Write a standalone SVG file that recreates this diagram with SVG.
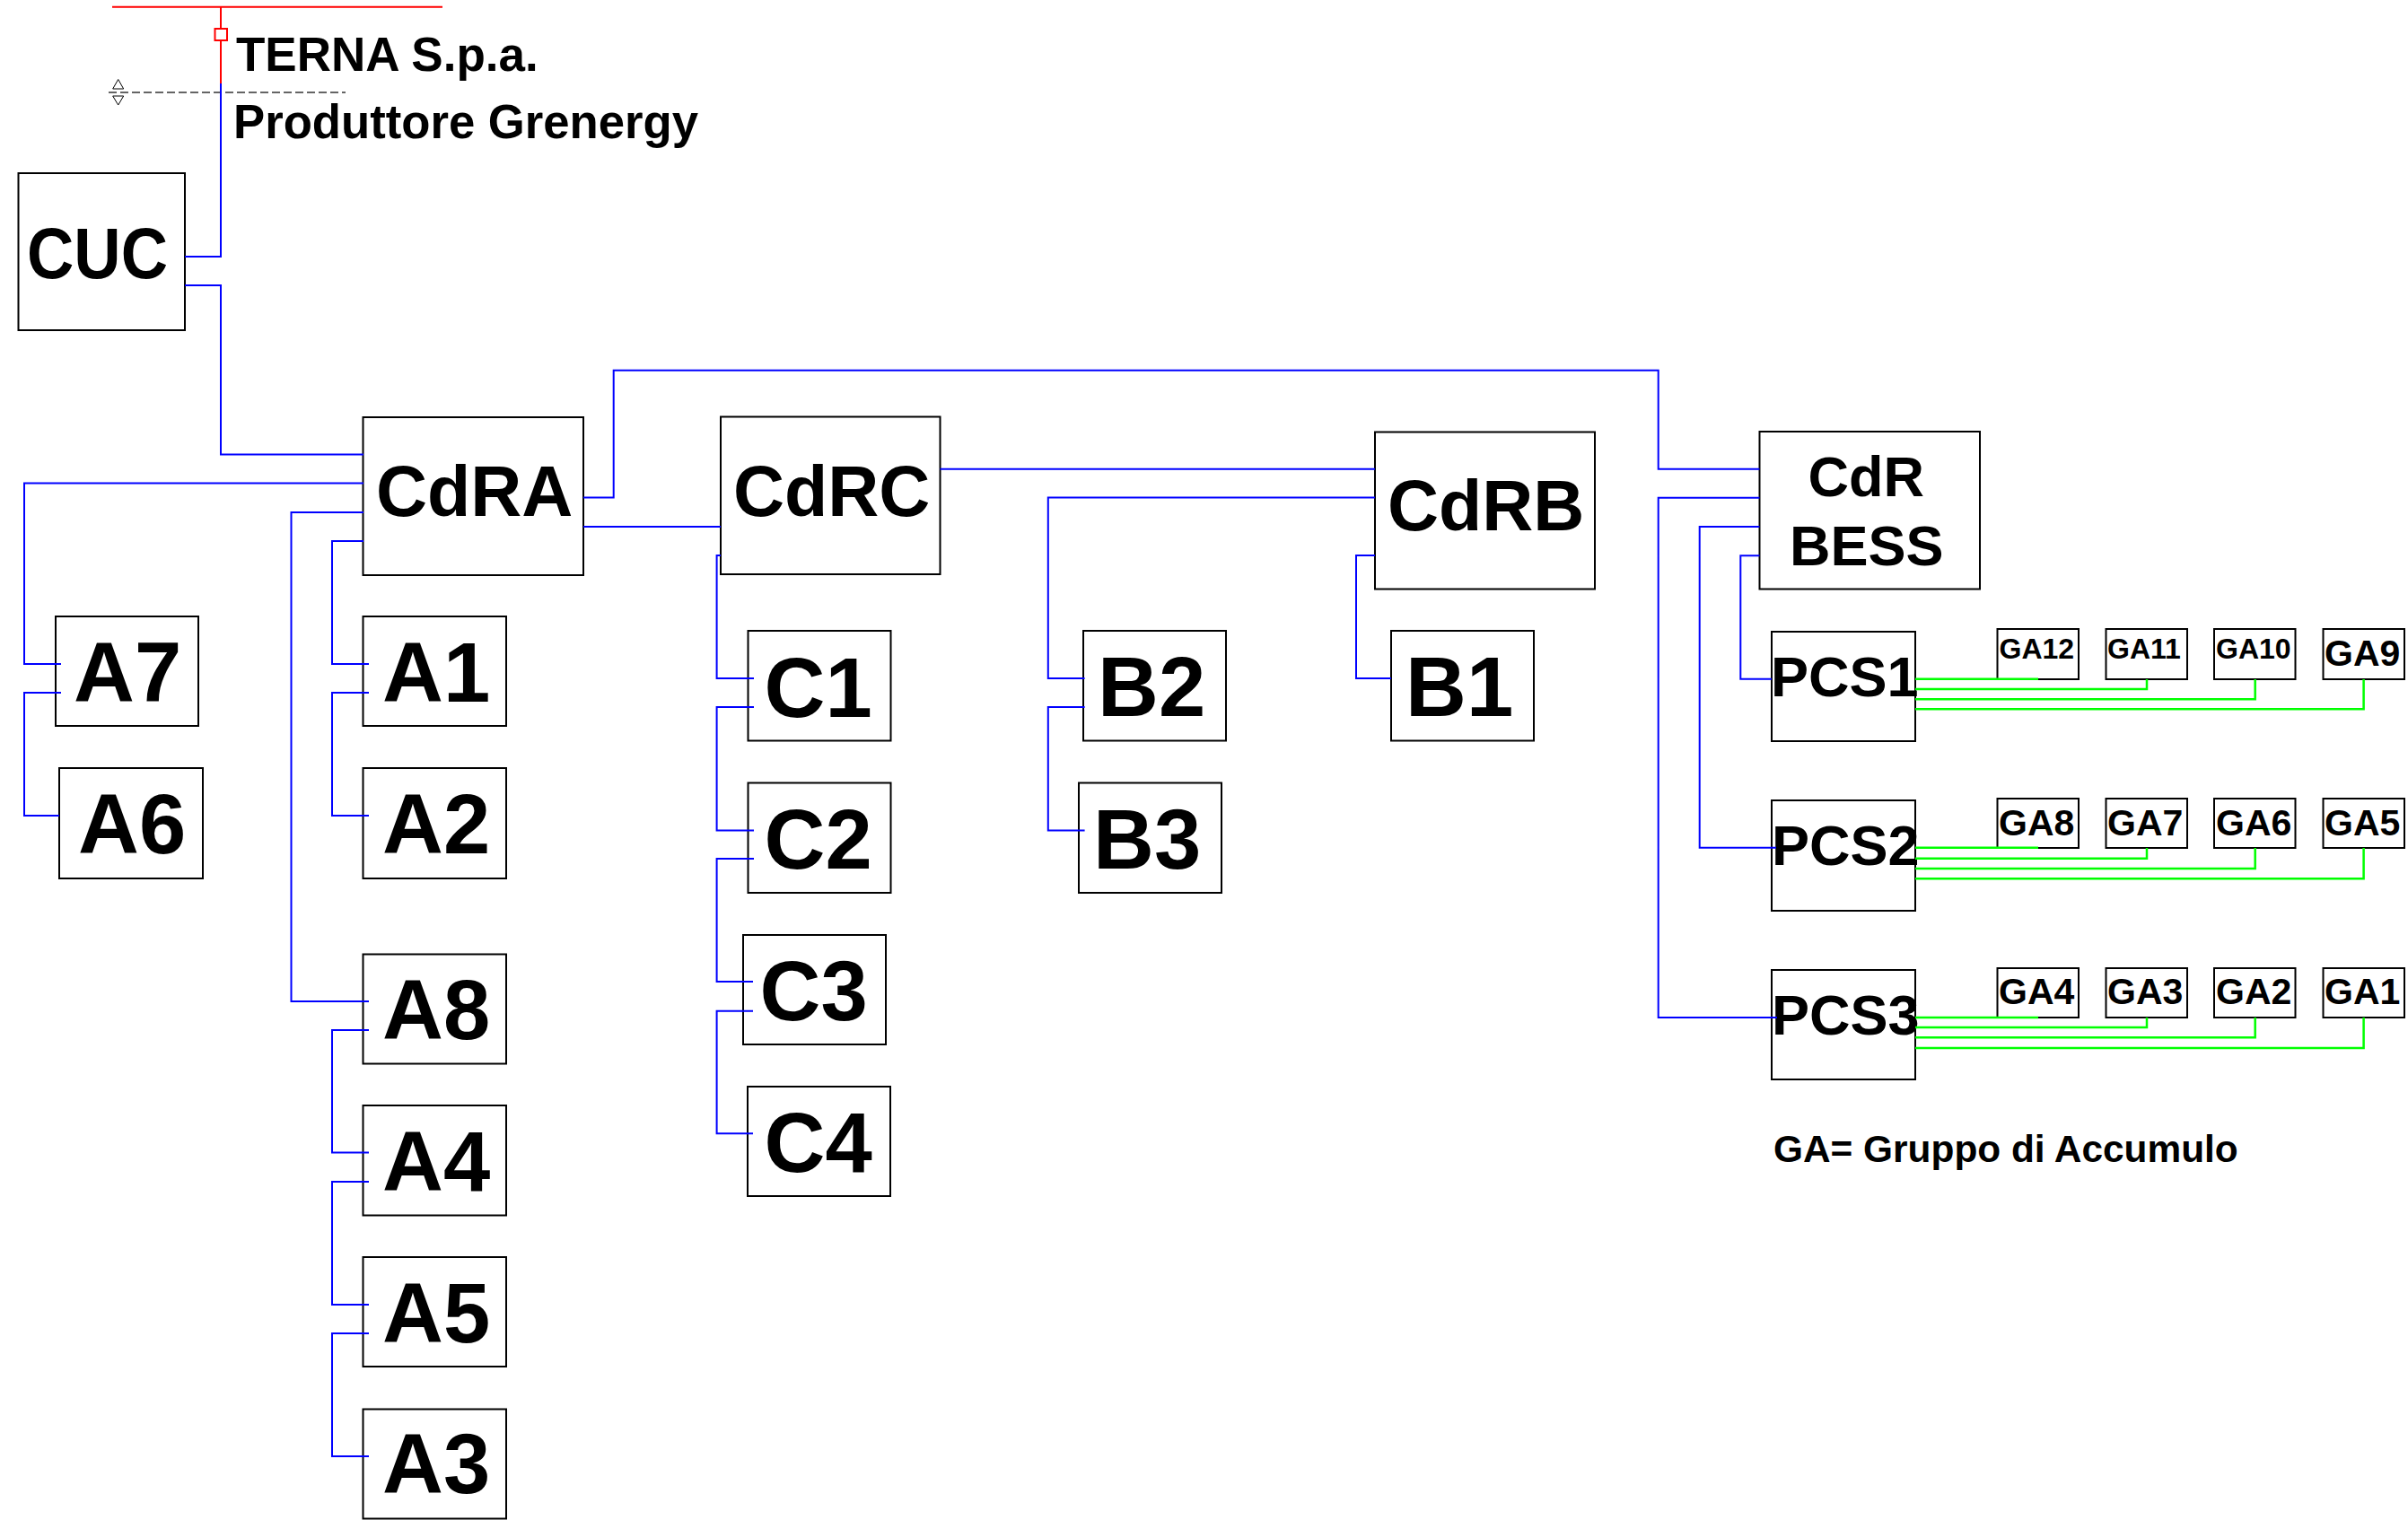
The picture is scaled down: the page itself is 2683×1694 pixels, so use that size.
<svg xmlns="http://www.w3.org/2000/svg" width="2683" height="1694" viewBox="0 0 2683 1694">
<style>
text{font-family:"Liberation Sans",Arial,sans-serif;font-weight:bold;fill:#000}
.b{fill:#fff;stroke:#000;stroke-width:2}
.xl{font-size:94px}.l{font-size:79px}.m{font-size:63px}.s{font-size:41px}.xs{font-size:32px}.t{font-size:53px}.n{font-size:42.4px}
#connectors path{fill:none;stroke-width:2}
#connectors path.gr{stroke-width:2.5}
.bl{stroke:#0000ff}.gr{stroke:#00ff00}.rd{stroke:#ff0000}
</style>
<rect width="2683" height="1694" fill="#fff"/>
<g id="CUC"><rect class="b" x="20.5" y="193" width="185.5" height="175"/><text class="l" x="30" y="310" textLength="157" lengthAdjust="spacingAndGlyphs">CUC</text></g>
<g id="CdRA"><rect class="b" x="404.5" y="465" width="245.5" height="176"/><text class="l" x="419" y="575">CdRA</text></g>
<g id="CdRC"><rect class="b" x="803" y="464.5" width="244.5" height="175.5"/><text class="l" x="817" y="574.5">CdRC</text></g>
<g id="CdRB"><rect class="b" x="1532" y="481.5" width="245" height="175"/><text class="l" x="1546" y="591">CdRB</text></g>
<g id="CdRBESS"><rect class="b" x="1960.5" y="481" width="245.5" height="175.5"/><text class="m" x="2014.5" y="553">CdR</text><text class="m" x="1994" y="630">BESS</text></g>
<g id="A7"><rect class="b" x="62" y="687" width="159" height="122"/><text class="xl" x="82" y="782">A7</text></g>
<g id="A6"><rect class="b" x="66" y="856" width="160" height="123"/><text class="xl" x="87" y="951">A6</text></g>
<g id="A1"><rect class="b" x="404.5" y="687" width="159.5" height="122"/><text class="xl" x="426" y="782">A1</text></g>
<g id="A2"><rect class="b" x="404.5" y="856" width="159.5" height="123"/><text class="xl" x="426" y="951">A2</text></g>
<g id="A8"><rect class="b" x="404.5" y="1063.5" width="159.5" height="122"/><text class="xl" x="426" y="1158">A8</text></g>
<g id="A4"><rect class="b" x="404.5" y="1232" width="159.5" height="122.5"/><text class="xl" x="426" y="1326.5">A4</text></g>
<g id="A5"><rect class="b" x="404.5" y="1401" width="159.5" height="122"/><text class="xl" x="426" y="1495.5">A5</text></g>
<g id="A3"><rect class="b" x="404.5" y="1570.5" width="159.5" height="122"/><text class="xl" x="426" y="1664">A3</text></g>
<g id="C1"><rect class="b" x="833.5" y="703" width="159" height="122.5"/><text class="xl" x="851.5" y="798.5">C1</text></g>
<g id="C2"><rect class="b" x="833.5" y="872.5" width="159" height="122.5"/><text class="xl" x="851.5" y="968">C2</text></g>
<g id="C3"><rect class="b" x="828" y="1042" width="159" height="122"/><text class="xl" x="846.5" y="1137">C3</text></g>
<g id="C4"><rect class="b" x="833" y="1211" width="159" height="122"/><text class="xl" x="851.5" y="1306">C4</text></g>
<g id="B2"><rect class="b" x="1207" y="703" width="159" height="122.5"/><text class="xl" x="1223" y="798">B2</text></g>
<g id="B3"><rect class="b" x="1202" y="872.5" width="159" height="122.5"/><text class="xl" x="1218" y="967.5">B3</text></g>
<g id="B1"><rect class="b" x="1550" y="703" width="159" height="122.5"/><text class="xl" x="1566" y="798">B1</text></g>
<g id="PCS1"><rect class="b" x="1974" y="704" width="160" height="122"/><text class="m" x="1973" y="776">PCS1</text></g>
<g id="PCS2"><rect class="b" x="1974" y="892" width="160" height="123"/><text class="m" x="1974" y="964">PCS2</text></g>
<g id="PCS3"><rect class="b" x="1974" y="1081" width="160" height="122"/><text class="m" x="1974" y="1153">PCS3</text></g>
<g id="GA12"><rect class="b" x="2225.5" y="701" width="90.5" height="56"/><text class="xs" x="2227.5" y="734">GA12</text></g>
<g id="GA11"><rect class="b" x="2346.5" y="701" width="90.5" height="56"/><text class="xs" x="2348" y="734">GA11</text></g>
<g id="GA10"><rect class="b" x="2467" y="701" width="90.5" height="56"/><text class="xs" x="2469" y="734">GA10</text></g>
<g id="GA9"><rect class="b" x="2588.5" y="701" width="90.5" height="56"/><text class="s" x="2590" y="741.5">GA9</text></g>
<g id="GA8"><rect class="b" x="2225.5" y="890" width="90.5" height="55"/><text class="s" x="2227" y="931">GA8</text></g>
<g id="GA7"><rect class="b" x="2346.5" y="890" width="90.5" height="55"/><text class="s" x="2348" y="931">GA7</text></g>
<g id="GA6"><rect class="b" x="2467" y="890" width="90.5" height="55"/><text class="s" x="2469" y="931">GA6</text></g>
<g id="GA5"><rect class="b" x="2588.5" y="890" width="90.5" height="55"/><text class="s" x="2590" y="931">GA5</text></g>
<g id="GA4"><rect class="b" x="2225.5" y="1079" width="90.5" height="55"/><text class="s" x="2227" y="1119">GA4</text></g>
<g id="GA3"><rect class="b" x="2346.5" y="1079" width="90.5" height="55"/><text class="s" x="2348" y="1119">GA3</text></g>
<g id="GA2"><rect class="b" x="2467" y="1079" width="90.5" height="55"/><text class="s" x="2469" y="1119">GA2</text></g>
<g id="GA1"><rect class="b" x="2588.5" y="1079" width="90.5" height="55"/><text class="s" x="2590" y="1119">GA1</text></g>
<g id="labels">
<text class="t" x="263" y="79">TERNA S.p.a.</text>
<text class="t" x="260" y="153.5" textLength="518" lengthAdjust="spacingAndGlyphs">Produttore Grenergy</text>
<text class="n" x="1976" y="1295">GA= Gruppo di Accumulo</text>
</g>
<g id="boundary">
<path d="M121 103H385" fill="none" stroke="#333" stroke-width="1.5" stroke-dasharray="9 4"/>
<path d="M131.7 88.5L125.7 99H137.7ZM131.7 117L125.7 107H137.7Z" fill="#fff" stroke="#000" stroke-width="1"/>
</g>
<g id="connectors">
<path class="rd" d="M125 7.7H493M246 7.7V32M246 45V93"/>
<rect x="239.5" y="32" width="13.5" height="13" fill="#fff" stroke="#ff0000" stroke-width="2"/>
<path class="bl" d="M246 93V286H206M206 318H246V506.4H405"/>
<path class="bl" d="M405 538.6H27V740H68M68 772H27V909H66"/>
<path class="bl" d="M405 571H324.5V1116H411M405 603H370V740H411M411 772H370V909H411"/>
<path class="bl" d="M411 1148H370V1284.6H411M411 1317H370V1454H411M411 1486H370V1623H411"/>
<path class="bl" d="M650 554.6H683.7V412.7H1847.7V522.7H1960.5M1960.5 554.7H1847.7V1134H1980M1960.5 587H1893.7V944.7H1979M1960.5 619.3H1939.3V756.7H1974"/>
<path class="bl" d="M650 587H803M1047.5 522.7H1532M803 619H798.6V756H840M840 788H798.6V925.4H840M840 957H798.6V1094H839M839 1126.7H798.6V1263.3H839"/>
<path class="bl" d="M1532 554.6H1167.8V756H1208.6M1208.6 788H1167.8V925.4H1208.6M1532 619H1511V756H1550"/>
<path class="gr" d="M2134 756.7H2271M2134 768H2392V757M2134 779.3H2512.7V757M2134 790.3H2633.6V757"/>
<path class="gr" d="M2134 944.7H2271M2134 956.7H2392V945M2134 968H2512.7V945M2134 979.3H2633.6V945"/>
<path class="gr" d="M2134 1134H2271M2134 1145H2392V1134M2134 1156.3H2512.7V1134M2134 1168H2633.6V1134"/>
</g>
</svg>
